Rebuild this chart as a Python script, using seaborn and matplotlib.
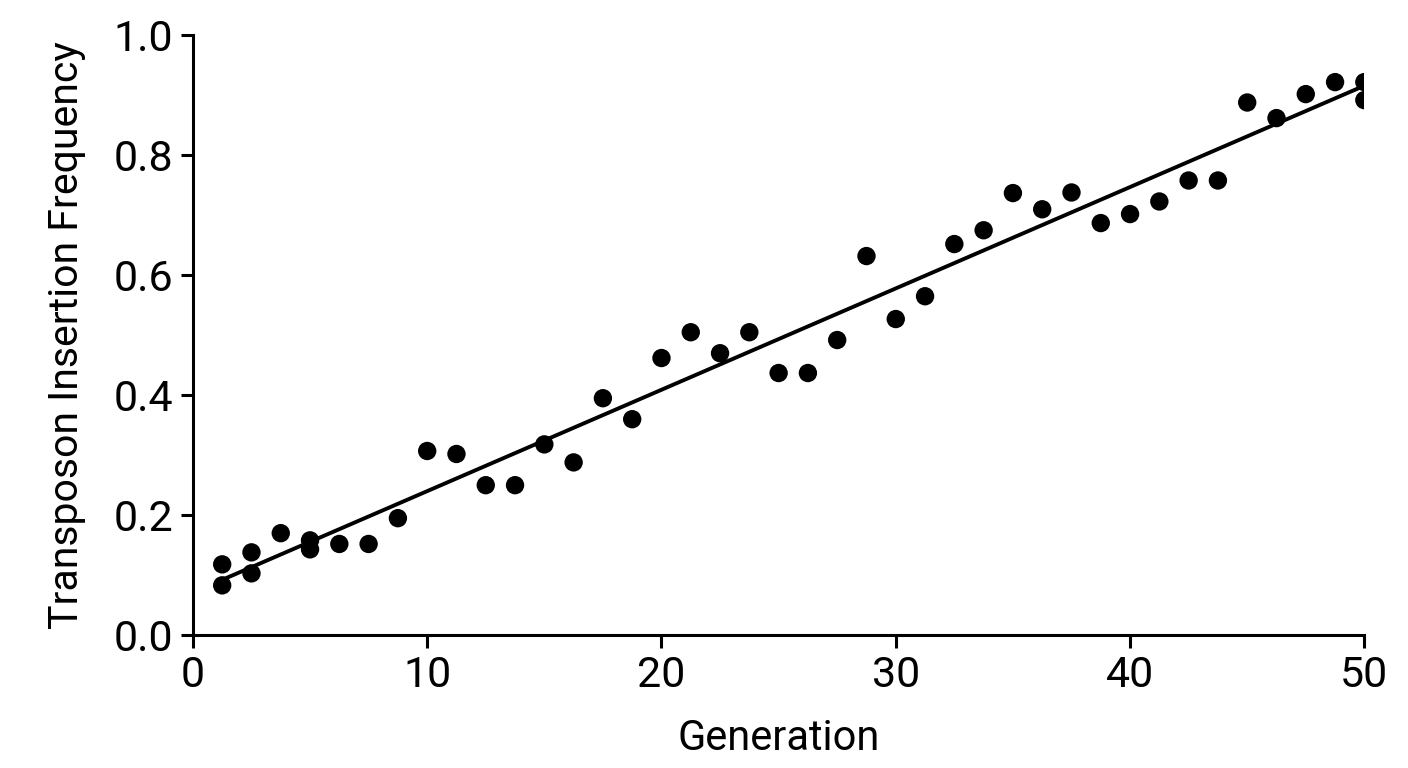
import numpy as np
import pandas as pd
import matplotlib
matplotlib.use('Agg')
import matplotlib.pyplot as plt
import seaborn as sns

# 数据: 代数与转座子插入频率
generation = [1.25, 1.25, 2.5, 2.5, 3.75, 5.0, 5.0, 6.25, 7.5, 8.75,
              10.0, 11.25, 12.5, 13.75, 15.0, 16.25, 17.5, 18.75, 20.0, 21.25,
              22.5, 23.75, 25.0, 26.25, 27.5, 28.75, 30.0, 31.25, 32.5, 33.75,
              35.0, 36.25, 37.5, 38.75, 40.0, 41.25, 42.5, 43.75, 45.0, 46.25,
              47.5, 48.75, 50.0, 50.0]
frequency = [0.118, 0.083, 0.138, 0.103, 0.170, 0.158, 0.143, 0.152, 0.152, 0.195,
             0.307, 0.302, 0.250, 0.250, 0.318, 0.288, 0.395, 0.360, 0.462, 0.505,
             0.470, 0.505, 0.437, 0.437, 0.492, 0.632, 0.527, 0.565, 0.652, 0.675,
             0.737, 0.710, 0.738, 0.687, 0.702, 0.723, 0.758, 0.758, 0.888, 0.862,
             0.902, 0.922, 0.922, 0.892]

df = pd.DataFrame({'Generation': generation, 'Frequency': frequency})

sns.set_theme(style='ticks')
plt.rcParams['font.family'] = ['Roboto', 'DejaVu Sans']
plt.rcParams['text.color'] = 'black'
plt.rcParams['axes.labelcolor'] = 'black'

fig = plt.figure(figsize=(14.08, 7.68), dpi=100)
ax = fig.add_axes([0.137, 0.173, 0.832, 0.781])

sns.regplot(data=df, x='Generation', y='Frequency', ci=None, ax=ax,
            color='black',
            scatter_kws={'s': 175, 'edgecolor': 'none', 'alpha': 1},
            line_kws={'lw': 2.8})

ax.set_xlim(0, 50)
ax.set_ylim(0, 1.0)
ax.set_xticks([0, 10, 20, 30, 40, 50])
ax.set_yticks([0.0, 0.2, 0.4, 0.6, 0.8, 1.0])
ax.set_yticklabels(['0.0', '0.2', '0.4', '0.6', '0.8', '1.0'])
ax.set_xlabel('Generation', fontsize=30, labelpad=16, color='black')
ax.set_ylabel('Transposon Insertion Frequency', fontsize=29.5, labelpad=20, color='black')
ax.tick_params(axis='both', labelsize=31, width=2.2, length=9, color='black',
               labelcolor='black', pad=5)
for s in ['left', 'bottom']:
    ax.spines[s].set_linewidth(2.2)
    ax.spines[s].set_color('black')
sns.despine(ax=ax)
ax.set_facecolor('white')
fig.patch.set_facecolor('white')

fig.savefig('out.png', dpi=100)
